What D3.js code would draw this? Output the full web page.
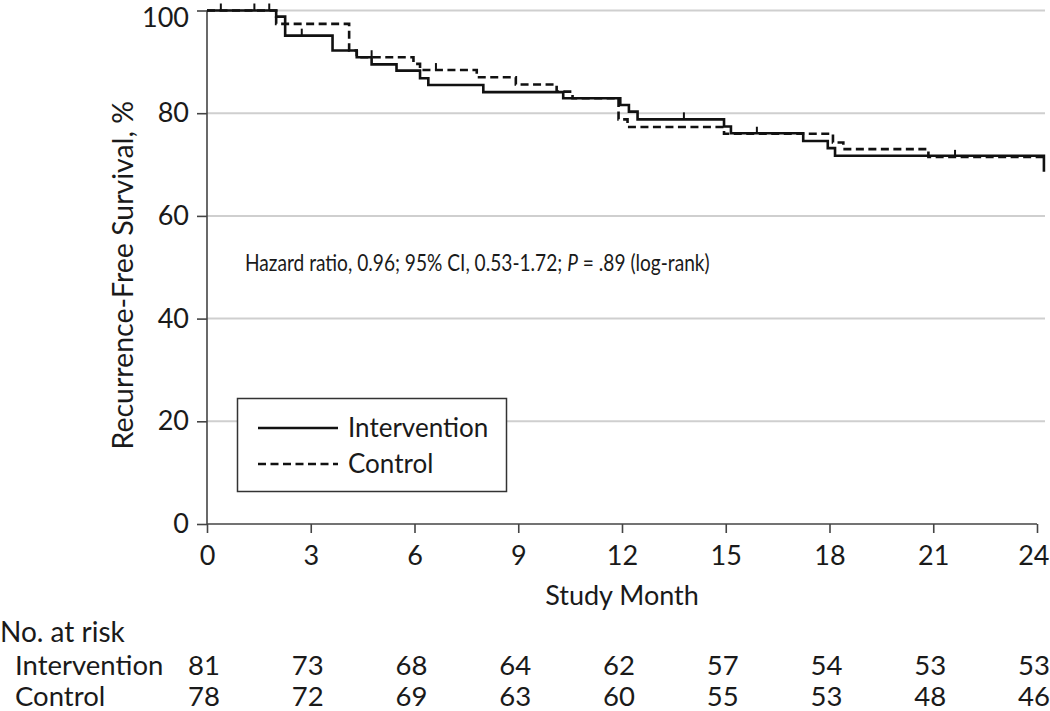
<!DOCTYPE html>
<html><head><meta charset="utf-8">
<script src="https://cdn.jsdelivr.net/npm/d3@7"></script>
<style>
html,body{margin:0;padding:0;background:#fff;}
svg text{font-family:Lato,"Open Sans",sans-serif;fill:#1a1a1a;}
</style></head>
<body>
<svg id="chart" width="1050" height="711"></svg>
<script>
// ---- data ----
const interventionSteps = [
  [0,100],[2.0,98.8],[2.26,95.1],[3.63,92.2],[4.33,90.9],[4.76,89.5],[5.48,88.3],
  [6.16,86.8],[6.4,85.5],[7.99,84.1],[10.3,82.9],[11.95,81.6],[12.2,80.3],[12.45,78.8],
  [14.95,77.4],[15.15,76.1],[17.24,74.6],[17.95,73.2],[18.16,71.7],[24.2,68.6]
];
const interventionCensor = [[2.74,95.1],[13.79,78.8]];

const controlSteps = [
  [0,100],[2.0,97.4],[4.11,92.2],[4.33,90.9],[5.97,89.6],[6.16,88.4],[7.8,87.0],
  [8.93,85.6],[10.11,84.2],[10.57,82.9],[11.9,78.8],[12.16,77.3],[14.95,76.0],
  [18.1,74.3],[18.4,73.0],[20.86,71.5]
];
const controlEnd = 24.2;
const controlCensor = [[0.40,100],[1.37,100],[1.80,100],[4.76,90.9],[6.62,88.4],[15.9,76.0],[21.63,71.5]];

const xTicks = [0,3,6,9,12,15,18,21,24];
const yTicks = [0,20,40,60,80,100];
const seriesNames = ["Intervention","Control"];
const atRiskIntervention = [81,73,68,64,62,57,54,53,53];
const atRiskControl = [78,72,69,63,60,55,53,48,46];
const annotation = "Hazard ratio, 0.96; 95% CI, 0.53-1.72; ";

// ---- drawing ----
const svg = d3.select("#chart");
const x = d3.scaleLinear().domain([0,24]).range([207,1037]);
const y = d3.scaleLinear().domain([0,100]).range([524,10.5]);

// gridlines
svg.append("g").selectAll("line").data(yTicks.filter(d=>d>0)).join("line")
  .attr("x1",x(0)).attr("x2",1045).attr("y1",d=>y(d)).attr("y2",d=>y(d))
  .attr("stroke","#cfcfcf").attr("stroke-width",2);

// axes
const yAxis = svg.append("g").attr("transform",`translate(${x(0)},0)`)
  .call(d3.axisLeft(y).tickValues(yTicks).tickSize(10).tickPadding(8));
const xAxis = svg.append("g").attr("transform",`translate(0,${y(0)})`)
  .call(d3.axisBottom(x).tickValues(xTicks).tickSize(9).tickPadding(8));
[yAxis,xAxis].forEach(g=>{
  g.select(".domain").attr("stroke","#444").attr("stroke-width",1.6);
  g.selectAll(".tick line").attr("stroke","#444").attr("stroke-width",1.6);
  g.selectAll(".tick text").style("font-size","27px").attr("fill","#1a1a1a");
});
yAxis.select(".domain").attr("d",`M0,${y(0)}V${y(100)}`);
xAxis.select(".domain").attr("d",`M${x(0)},0H${x(24)}`);
xAxis.selectAll(".tick text").attr("dy","0.9em");
yAxis.selectAll(".tick text").filter(d=>d===100).attr("dy","0.6em");
xAxis.selectAll(".tick text").filter(d=>d===24).attr("text-anchor","end").attr("dx","12");

// curves
function stepPath(steps,end){
  const last = steps[steps.length-1];
  const data = steps.concat([[end,last[1]]]);
  return d3.line().x(d=>x(d[0])).y(d=>y(d[1])).curve(d3.curveStepAfter)(data);
}
const iLast = interventionSteps[interventionSteps.length-1];
svg.append("path").attr("d",stepPath(interventionSteps.slice(0,-1),iLast[0]) + `V${y(iLast[1])}`)
  .attr("fill","none").attr("stroke","#111").attr("stroke-width",2.6);
svg.append("path").attr("d",stepPath(controlSteps,controlEnd))
  .attr("fill","none").attr("stroke","#111").attr("stroke-width",2.6)
  .attr("stroke-dasharray","8,4.5");

// censor ticks
svg.append("g").selectAll("line").data(interventionCensor.concat(controlCensor)).join("line")
  .attr("x1",d=>x(d[0])).attr("x2",d=>x(d[0])).attr("y1",d=>y(d[1])).attr("y2",d=>y(d[1])-7)
  .attr("stroke","#111").attr("stroke-width",2);

// axis titles
svg.append("text").attr("transform",`translate(133,${(y(0)+y(100))/2 + 8}) rotate(-90)`)
  .attr("text-anchor","middle").style("font-size","28.5px").text("Recurrence-Free Survival, %");
svg.append("text").attr("x",(x(0)+x(24))/2).attr("y",605).attr("text-anchor","middle")
  .style("font-size","27px").text("Study Month");

// annotation (condensed like the reference)
const ann = svg.append("text").attr("transform","translate(245,271) scale(0.85,1)").style("font-size","22.5px");
ann.append("tspan").text(annotation);
ann.append("tspan").style("font-style","italic").text("P");
ann.append("tspan").text(" = .89 (log-rank)");

// legend
svg.append("rect").attr("x",237.5).attr("y",398.5).attr("width",269).attr("height",93)
  .attr("fill","#fff").attr("stroke","#333").attr("stroke-width",1.5);
const leg = svg.append("g");
seriesNames.forEach((n,i)=>{
  const ly = 428 + i*36;
  leg.append("line").attr("x1",258).attr("x2",338).attr("y1",ly).attr("y2",ly)
    .attr("stroke","#111").attr("stroke-width",2.6)
    .attr("stroke-dasharray", i===1 ? "8,4.5" : null);
  leg.append("text").attr("x",348).attr("y",ly+9).style("font-size","26px").text(n);
});

// at-risk table
svg.append("text").attr("x",0).attr("y",642).style("font-size","28px").text("No. at risk");
[["Intervention",atRiskIntervention],["Control",atRiskControl]].forEach((r,i)=>{
  const ry = 675 + i*31;
  svg.append("text").attr("x",15).attr("y",ry).style("font-size","27.5px").text(r[0]);
  svg.append("g").selectAll("text").data(r[1]).join("text")
    .attr("x",(d,j)=>x(xTicks[j])-3).attr("y",ry).attr("text-anchor","middle")
    .style("font-size","27.5px").text(d=>d);
});
</script>
</body></html>
